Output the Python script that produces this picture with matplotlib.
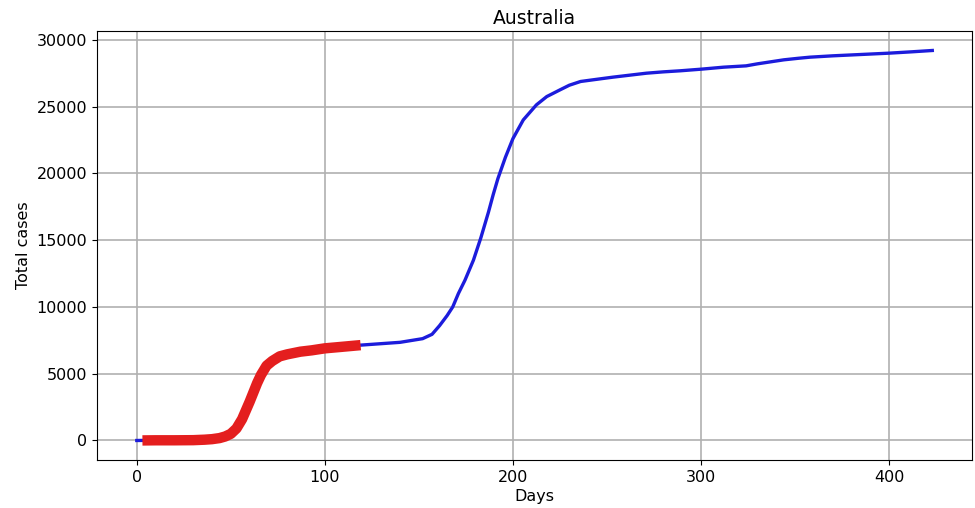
import matplotlib
matplotlib.use("Agg")
import matplotlib.pyplot as plt

# Australia total cases
days = [0, 3, 10, 20, 30, 36, 40, 44, 47, 50, 53, 56, 58, 60, 62, 64, 66, 69, 72,
        76, 80, 87, 93, 100, 108, 119, 130, 140, 152, 157, 161, 165, 168, 171,
        174.5, 179, 183, 187, 189.5, 192, 196, 200, 205.5, 212.5, 218, 225,
        230, 236, 245, 253, 262, 271, 280, 289, 300, 312, 324, 330, 337, 344,
        352, 358, 370, 385, 400, 412, 423]
cases = [0, 5, 15, 15, 25, 60, 100, 180, 300, 500, 900, 1600, 2250, 2900, 3600,
         4300, 4900, 5600, 5950, 6300, 6450, 6650, 6750, 6900, 7000, 7140, 7250,
         7350, 7625, 7950, 8600, 9350, 10000, 11000, 12000, 13500, 15200,
         17100, 18400, 19600, 21200, 22600, 24000, 25130, 25750, 26250,
         26600, 26880, 27050, 27200, 27350, 27500, 27600, 27680, 27800,
         27950, 28050, 28200, 28350, 28500, 28620, 28700, 28800, 28900, 29000,
         29100, 29200]

# highlighted period
hl_start, hl_end = 3, 119

fig = plt.figure(figsize=(9.75, 5.08), dpi=100)
ax = fig.add_axes([0.0995, 0.0945, 0.8975, 0.8445])

ax.plot(days, cases, color='#1c1cdc', linewidth=2.4, zorder=3)
hl_days = [d for d in days if hl_start <= d <= hl_end]
hl_cases = [c for d, c in zip(days, cases) if hl_start <= d <= hl_end]
ax.plot(hl_days, hl_cases, color='#e41e1e', linewidth=7.5,
        solid_capstyle='butt', zorder=4)

ax.set_title('Australia', fontsize=13.5, pad=5)
ax.set_xlabel('Days', fontsize=11.5, labelpad=3)
ax.set_ylabel('Total cases', fontsize=11.5)
ax.tick_params(labelsize=11.5)
ax.grid(True, color='#b0b0b0', linewidth=1.2)
ax.set_axisbelow(True)

fig.savefig('out.png', dpi=100)
